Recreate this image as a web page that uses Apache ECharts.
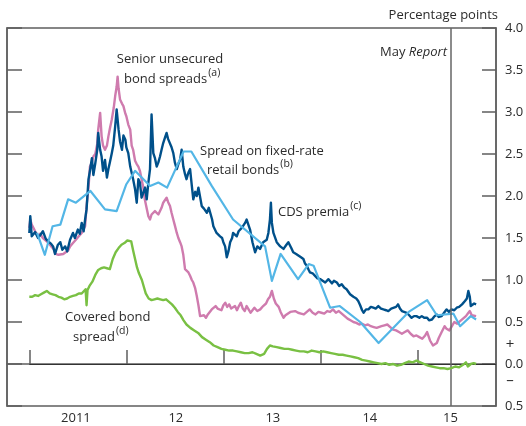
<!DOCTYPE html>
<html>
<head>
<meta charset="utf-8">
<script src="https://cdn.jsdelivr.net/npm/echarts@6/dist/echarts.min.js"></script>
<style>html,body{margin:0;padding:0;background:#fff}#c{width:526px;height:426px}</style>
</head>
<body>
<div id="c"></div>
<script>
// x values are decimal years
const cdsPremia = [
[2011.00,1.56],[2011.01,1.76],[2011.025,1.52],[2011.06,1.57],[2011.09,1.50],[2011.11,1.53],[2011.14,1.58],[2011.17,1.49],[2011.195,1.46],[2011.225,1.43],[2011.245,1.40],[2011.265,1.31],[2011.295,1.42],[2011.32,1.45],[2011.34,1.36],[2011.37,1.40],[2011.39,1.34],[2011.42,1.48],[2011.45,1.56],[2011.47,1.50],[2011.50,1.60],[2011.52,1.55],[2011.54,1.68],[2011.56,1.58],[2011.575,1.72],[2011.59,1.84],[2011.61,2.20],[2011.625,2.30],[2011.645,2.45],[2011.66,2.25],[2011.68,2.39],[2011.70,2.55],[2011.71,2.75],[2011.73,2.55],[2011.745,2.47],[2011.76,2.30],[2011.78,2.43],[2011.80,2.22],[2011.815,2.32],[2011.83,2.40],[2011.85,2.51],[2011.865,2.60],[2011.885,2.83],[2011.90,3.03],[2011.92,2.79],[2011.935,2.65],[2011.955,2.55],[2011.97,2.72],[2011.99,2.67],[2012.00,2.58],[2012.02,2.51],[2012.04,2.35],[2012.055,2.35],[2012.07,2.20],[2012.09,2.08],[2012.107,1.92],[2012.124,2.20],[2012.14,2.16],[2012.157,1.98],[2012.175,2.00],[2012.193,2.10],[2012.21,1.96],[2012.227,2.16],[2012.244,2.32],[2012.26,2.97],[2012.278,2.51],[2012.295,2.45],[2012.313,2.35],[2012.33,2.40],[2012.347,2.47],[2012.363,2.55],[2012.38,2.63],[2012.40,2.70],[2012.415,2.75],[2012.43,2.68],[2012.45,2.67],[2012.466,2.58],[2012.484,2.51],[2012.50,2.40],[2012.52,2.32],[2012.536,2.38],[2012.554,2.43],[2012.57,2.55],[2012.587,2.35],[2012.605,2.26],[2012.62,2.20],[2012.64,2.28],[2012.657,2.32],[2012.675,2.12],[2012.69,1.96],[2012.71,2.05],[2012.726,2.00],[2012.743,2.10],[2012.76,2.08],[2012.777,1.88],[2012.80,1.85],[2012.83,1.80],[2012.85,1.86],[2012.863,1.84],[2012.884,1.72],[2012.897,1.64],[2012.915,1.62],[2012.93,1.56],[2012.95,1.58],[2012.966,1.52],[2012.987,1.50],[2013.00,1.45],[2013.018,1.40],[2013.035,1.27],[2013.054,1.35],[2013.07,1.45],[2013.09,1.50],[2013.10,1.56],[2013.12,1.55],[2013.138,1.52],[2013.157,1.58],[2013.172,1.56],[2013.19,1.62],[2013.206,1.60],[2013.224,1.68],[2013.24,1.72],[2013.26,1.65],[2013.275,1.60],[2013.30,1.45],[2013.327,1.33],[2013.35,1.40],[2013.378,1.37],[2013.41,1.45],[2013.447,1.48],[2013.464,1.56],[2013.48,1.72],[2013.49,1.92],[2013.50,1.68],[2013.516,1.56],[2013.55,1.45],[2013.586,1.40],[2013.62,1.37],[2013.65,1.42],[2013.67,1.45],[2013.70,1.38],[2013.72,1.33],[2013.75,1.31],[2013.77,1.29],[2013.80,1.27],[2013.825,1.25],[2013.84,1.20],[2013.86,1.17],[2013.88,1.12],[2013.893,1.09],[2013.92,1.08],[2013.945,1.05],[2013.97,1.02],[2014.00,1.01],[2014.02,0.99],[2014.05,0.97],[2014.083,1.01],[2014.12,0.96],[2014.14,0.99],[2014.17,0.97],[2014.193,0.93],[2014.22,0.95],[2014.245,0.91],[2014.27,0.89],[2014.306,0.83],[2014.34,0.80],[2014.37,0.78],[2014.39,0.75],[2014.41,0.70],[2014.43,0.64],[2014.445,0.61],[2014.47,0.65],[2014.495,0.65],[2014.52,0.68],[2014.546,0.67],[2014.57,0.66],[2014.597,0.69],[2014.625,0.66],[2014.65,0.65],[2014.677,0.64],[2014.70,0.63],[2014.73,0.66],[2014.75,0.65],[2014.78,0.68],[2014.80,0.71],[2014.82,0.66],[2014.84,0.63],[2014.86,0.62],[2014.89,0.61],[2014.915,0.58],[2014.94,0.55],[2014.965,0.57],[2014.99,0.57],[2015.02,0.55],[2015.045,0.57],[2015.07,0.55],[2015.10,0.55],[2015.12,0.52],[2015.15,0.53],[2015.17,0.56],[2015.20,0.59],[2015.22,0.56],[2015.25,0.57],[2015.275,0.61],[2015.30,0.65],[2015.325,0.62],[2015.35,0.65],[2015.38,0.64],[2015.405,0.67],[2015.43,0.68],[2015.46,0.71],[2015.476,0.73],[2015.49,0.75],[2015.51,0.78],[2015.525,0.87],[2015.54,0.80],[2015.55,0.69],[2015.565,0.70],[2015.585,0.72],[2015.605,0.71]
];
const seniorUnsecured = [
[2011.00,1.62],[2011.01,1.72],[2011.025,1.66],[2011.04,1.64],[2011.06,1.58],[2011.09,1.52],[2011.11,1.55],[2011.14,1.50],[2011.17,1.47],[2011.20,1.44],[2011.225,1.40],[2011.25,1.37],[2011.27,1.31],[2011.30,1.30],[2011.32,1.29],[2011.35,1.31],[2011.37,1.31],[2011.40,1.35],[2011.42,1.40],[2011.45,1.44],[2011.48,1.48],[2011.51,1.52],[2011.54,1.56],[2011.56,1.58],[2011.575,1.64],[2011.59,1.88],[2011.61,2.10],[2011.625,2.35],[2011.645,2.40],[2011.66,2.47],[2011.68,2.50],[2011.70,2.62],[2011.71,2.79],[2011.73,2.99],[2011.745,2.71],[2011.76,2.60],[2011.78,2.55],[2011.80,2.60],[2011.815,2.71],[2011.83,2.80],[2011.85,2.91],[2011.87,3.05],[2011.885,3.19],[2011.90,3.30],[2011.91,3.42],[2011.92,3.28],[2011.935,3.15],[2011.955,3.10],[2011.97,3.07],[2011.99,2.98],[2012.00,2.95],[2012.02,2.85],[2012.04,2.79],[2012.055,2.60],[2012.07,2.55],[2012.09,2.42],[2012.107,2.38],[2012.124,2.35],[2012.14,2.30],[2012.157,2.20],[2012.175,2.10],[2012.19,1.96],[2012.21,1.85],[2012.227,1.76],[2012.244,1.72],[2012.26,1.78],[2012.278,1.76],[2012.295,1.82],[2012.313,1.84],[2012.33,1.78],[2012.347,1.80],[2012.363,1.86],[2012.38,1.92],[2012.40,1.90],[2012.415,1.98],[2012.43,1.93],[2012.45,1.88],[2012.466,1.80],[2012.484,1.72],[2012.50,1.65],[2012.52,1.56],[2012.536,1.50],[2012.554,1.45],[2012.57,1.40],[2012.587,1.30],[2012.605,1.13],[2012.62,1.12],[2012.64,1.09],[2012.657,1.05],[2012.675,1.00],[2012.69,0.97],[2012.71,0.90],[2012.726,0.81],[2012.743,0.70],[2012.76,0.57],[2012.777,0.55],[2012.80,0.58],[2012.82,0.55],[2012.84,0.59],[2012.86,0.62],[2012.88,0.65],[2012.90,0.63],[2012.92,0.69],[2012.94,0.66],[2012.96,0.67],[2012.98,0.64],[2013.00,0.70],[2013.02,0.73],[2013.04,0.68],[2013.06,0.71],[2013.08,0.66],[2013.10,0.65],[2013.12,0.69],[2013.14,0.64],[2013.16,0.69],[2013.18,0.73],[2013.20,0.66],[2013.22,0.63],[2013.24,0.69],[2013.26,0.65],[2013.28,0.61],[2013.30,0.64],[2013.32,0.67],[2013.35,0.63],[2013.38,0.65],[2013.41,0.69],[2013.44,0.72],[2013.46,0.77],[2013.48,0.80],[2013.50,0.87],[2013.52,0.78],[2013.54,0.72],[2013.57,0.68],[2013.59,0.62],[2013.62,0.55],[2013.64,0.58],[2013.66,0.59],[2013.69,0.62],[2013.71,0.60],[2013.74,0.63],[2013.77,0.61],[2013.80,0.60],[2013.83,0.59],[2013.86,0.62],[2013.89,0.65],[2013.92,0.61],[2013.95,0.59],[2013.98,0.62],[2014.01,0.61],[2014.04,0.60],[2014.07,0.63],[2014.10,0.62],[2014.13,0.65],[2014.16,0.61],[2014.19,0.63],[2014.22,0.60],[2014.25,0.57],[2014.28,0.54],[2014.31,0.52],[2014.34,0.50],[2014.37,0.49],[2014.40,0.47],[2014.43,0.48],[2014.46,0.46],[2014.49,0.47],[2014.52,0.45],[2014.55,0.44],[2014.58,0.43],[2014.60,0.44],[2014.63,0.45],[2014.66,0.46],[2014.69,0.47],[2014.72,0.44],[2014.75,0.41],[2014.78,0.40],[2014.81,0.38],[2014.84,0.36],[2014.87,0.38],[2014.90,0.40],[2014.93,0.36],[2014.96,0.33],[2014.99,0.34],[2015.02,0.32],[2015.05,0.30],[2015.08,0.34],[2015.10,0.38],[2015.13,0.28],[2015.16,0.22],[2015.18,0.20],[2015.20,0.25],[2015.22,0.31],[2015.25,0.38],[2015.28,0.45],[2015.30,0.42],[2015.33,0.40],[2015.36,0.46],[2015.38,0.50],[2015.41,0.48],[2015.44,0.51],[2015.47,0.54],[2015.50,0.57],[2015.52,0.60],[2015.54,0.63],[2015.56,0.58],[2015.58,0.56],[2015.605,0.57]
];
const retailBonds = [
[2011.08,1.56],[2011.16,1.30],[2011.24,1.64],[2011.32,1.66],[2011.40,1.96],[2011.48,1.92],[2011.63,2.06],[2011.78,1.84],[2011.90,1.82],[2012.00,2.14],[2012.09,2.30],[2012.245,2.12],[2012.33,2.16],[2012.42,2.10],[2012.59,2.53],[2012.67,2.53],[2012.88,2.12],[2013.10,1.72],[2013.43,1.40],[2013.50,0.99],[2013.59,1.31],[2013.77,1.01],[2013.88,1.19],[2013.93,1.17],[2014.10,0.67],[2014.20,0.69],[2014.41,0.50],[2014.60,0.25],[2014.91,0.62],[2015.10,0.76],[2015.20,0.58],[2015.37,0.60],[2015.44,0.45],[2015.55,0.57],[2015.605,0.53]
];
const coveredBond = [
[2011.00,0.80],[2011.03,0.80],[2011.06,0.82],[2011.09,0.81],[2011.12,0.83],[2011.15,0.85],[2011.18,0.87],[2011.21,0.84],[2011.24,0.83],[2011.27,0.82],[2011.30,0.80],[2011.33,0.79],[2011.36,0.77],[2011.39,0.78],[2011.42,0.80],[2011.45,0.81],[2011.48,0.82],[2011.51,0.84],[2011.54,0.84],[2011.56,0.86],[2011.58,0.89],[2011.59,0.70],[2011.60,0.88],[2011.62,0.93],[2011.65,0.98],[2011.68,1.06],[2011.71,1.12],[2011.74,1.14],[2011.77,1.15],[2011.80,1.14],[2011.83,1.13],[2011.86,1.25],[2011.89,1.33],[2011.92,1.38],[2011.95,1.42],[2011.98,1.44],[2012.01,1.47],[2012.03,1.49],[2012.05,1.46],[2012.07,1.35],[2012.09,1.25],[2012.11,1.15],[2012.13,1.08],[2012.16,1.00],[2012.18,0.92],[2012.20,0.84],[2012.23,0.78],[2012.26,0.76],[2012.29,0.77],[2012.32,0.78],[2012.35,0.77],[2012.38,0.76],[2012.41,0.77],[2012.44,0.74],[2012.47,0.71],[2012.50,0.67],[2012.53,0.62],[2012.56,0.58],[2012.59,0.52],[2012.62,0.47],[2012.66,0.43],[2012.70,0.40],[2012.74,0.37],[2012.78,0.32],[2012.82,0.29],[2012.86,0.26],[2012.90,0.22],[2012.94,0.20],[2012.98,0.18],[2013.02,0.17],[2013.06,0.16],[2013.10,0.16],[2013.14,0.15],[2013.18,0.14],[2013.22,0.13],[2013.26,0.13],[2013.30,0.14],[2013.34,0.12],[2013.38,0.10],[2013.42,0.12],[2013.45,0.18],[2013.48,0.22],[2013.51,0.21],[2013.55,0.20],[2013.59,0.19],[2013.63,0.18],[2013.67,0.18],[2013.71,0.17],[2013.75,0.16],[2013.79,0.15],[2013.83,0.15],[2013.87,0.14],[2013.91,0.16],[2013.95,0.15],[2013.99,0.14],[2014.03,0.15],[2014.07,0.14],[2014.11,0.13],[2014.15,0.12],[2014.19,0.11],[2014.23,0.11],[2014.27,0.10],[2014.31,0.09],[2014.35,0.08],[2014.39,0.07],[2014.43,0.05],[2014.47,0.04],[2014.51,0.03],[2014.55,0.02],[2014.59,0.01],[2014.63,0.00],[2014.67,0.01],[2014.71,-0.01],[2014.75,0.00],[2014.79,-0.02],[2014.83,-0.01],[2014.87,0.01],[2014.91,0.03],[2014.95,0.02],[2014.99,0.04],[2015.03,0.02],[2015.07,0.00],[2015.11,-0.02],[2015.15,-0.03],[2015.19,-0.04],[2015.23,-0.05],[2015.27,-0.05],[2015.31,-0.06],[2015.35,-0.05],[2015.39,-0.03],[2015.43,-0.04],[2015.47,-0.01],[2015.50,0.02],[2015.52,-0.03],[2015.55,0.00],[2015.58,0.01],[2015.605,0.00]
];
const yearTicks = [2011, 2012, 2013, 2014, 2015];
const yearLabelPos = [2011.48, 2012.51, 2013.51, 2014.51, 2015.34];
const yearLabels = ['2011', '12', '13', '14', '15'];
const mayReport = 2015.34;
const xMin = 2010.77, xMax = 2015.81;
const yMin = -0.5, yMax = 4.0, yStep = 0.5;

const FONT = 'Open Sans';
const FS = 13;
const AX = '#5f5f5f';
const TXT = '#2b2b2b';
const ctx = document.createElement('canvas').getContext('2d');
const textW = (t, s) => { ctx.font = s + 'px "' + FONT + '"'; return ctx.measureText(t).width; };

const chart = echarts.init(document.getElementById('c'), null, {renderer: 'canvas'});
const line = (name, data, color, w, z) => ({
  name, type: 'line', data, showSymbol: false, symbol: 'none', z,
  lineStyle: {color, width: w, join: 'round'}, animation: false
});
const lbl = (text, x, y, size, align) => ({
  type: 'text', x, y, silent: true,
  style: {text, fontFamily: FONT, fontSize: size || FS, fill: TXT, align: align || 'left', verticalAlign: 'middle'}
});
const supLbl = (text, sup, x, y) => [lbl(text, x, y), lbl(sup, x + textW(text, FS) + 1, y - 6, 10.5)];

chart.setOption({
  animation: false,
  grid: {left: 7, right: 30, top: 28, bottom: 20, outerBoundsMode: 'none',
    outerBounds: {left: -300, top: -300, right: -300, bottom: -300},
    show: true, borderColor: AX, borderWidth: 1.5, backgroundColor: 'transparent'},
  xAxis: {
    type: 'value', min: xMin, max: xMax,
    axisLine: {show: true, lineStyle: {color: AX, width: 1.5}},
    axisTick: {show: true, inside: true, length: 14, customValues: yearTicks, lineStyle: {color: AX, width: 1.5}},
    axisLabel: {show: true, customValues: yearLabelPos, margin: 6, fontFamily: FONT, fontSize: FS, color: TXT,
      formatter: v => { const i = yearLabelPos.findIndex(p => Math.abs(p - v) < 1e-6); return i >= 0 ? yearLabels[i] : ''; }},
    splitLine: {show: false}
  },
  yAxis: [
    {type: 'value', position: 'right', min: yMin, max: yMax, interval: yStep,
      axisLine: {show: true, lineStyle: {color: AX, width: 1.5}},
      axisTick: {show: true, inside: true, length: 14, lineStyle: {color: AX, width: 1.5}},
      axisLabel: {margin: 9, fontFamily: FONT, fontSize: FS, color: TXT, formatter: v => Math.abs(v).toFixed(1)},
      splitLine: {show: false}},
    {type: 'value', position: 'left', min: yMin, max: yMax, interval: yStep,
      axisLine: {show: true, lineStyle: {color: AX, width: 1.5}},
      axisTick: {show: true, inside: true, length: 15, lineStyle: {color: AX, width: 1.5}},
      axisLabel: {show: false}, splitLine: {show: false}}
  ],
  series: [
    Object.assign(line('Senior unsecured bond spreads', seniorUnsecured, '#CF7BAE', 2.4, 2), {
      markLine: {silent: true, symbol: 'none', label: {show: false}, animation: false,
        data: [
          [{coord: [2011.0, 0]}, {coord: [xMax, 0]}],
        ], lineStyle: {color: '#333', width: 1.2, type: 'solid'}}
    }),
    line('CDS premia', cdsPremia, '#00508A', 2.4, 3),
    line('Spread on fixed-rate retail bonds', retailBonds, '#53B6E6', 2.2, 4),
    Object.assign(line('Covered bond spread', coveredBond, '#79C043', 2.4, 5), {
      markLine: {silent: true, symbol: 'none', label: {show: false}, animation: false,
        data: [{xAxis: mayReport}], lineStyle: {color: '#666', width: 1.5, type: 'solid'}}
    })
  ],
  graphic: [
    lbl('Percentage points', 498, 15, FS, 'right'),
    {type: 'text', x: 447, y: 52, silent: true, style: {text: '{n|May }{i|Report}', align: 'right', verticalAlign: 'middle',
      rich: {n: {fontFamily: FONT, fontSize: FS, fill: TXT}, i: {fontFamily: FONT, fontSize: FS, fontStyle: 'italic', fill: TXT}}}},
    lbl('+', 510, 345, 15, 'center'),
    lbl('\u2013', 510, 381, 15, 'center'),
    lbl('Senior unsecured', 170, 59, FS, 'center'),
    ...supLbl('bond spreads', '(a)', 124, 79),
    lbl('Spread on fixed-rate', 200, 151),
    ...supLbl('retail bonds', '(b)', 207, 170),
    ...supLbl('CDS premia', '(c)', 278, 212),
    lbl('Covered bond', 65, 317),
    ...supLbl('spread', '(d)', 73, 337)
  ]
});
</script>
</body>
</html>
